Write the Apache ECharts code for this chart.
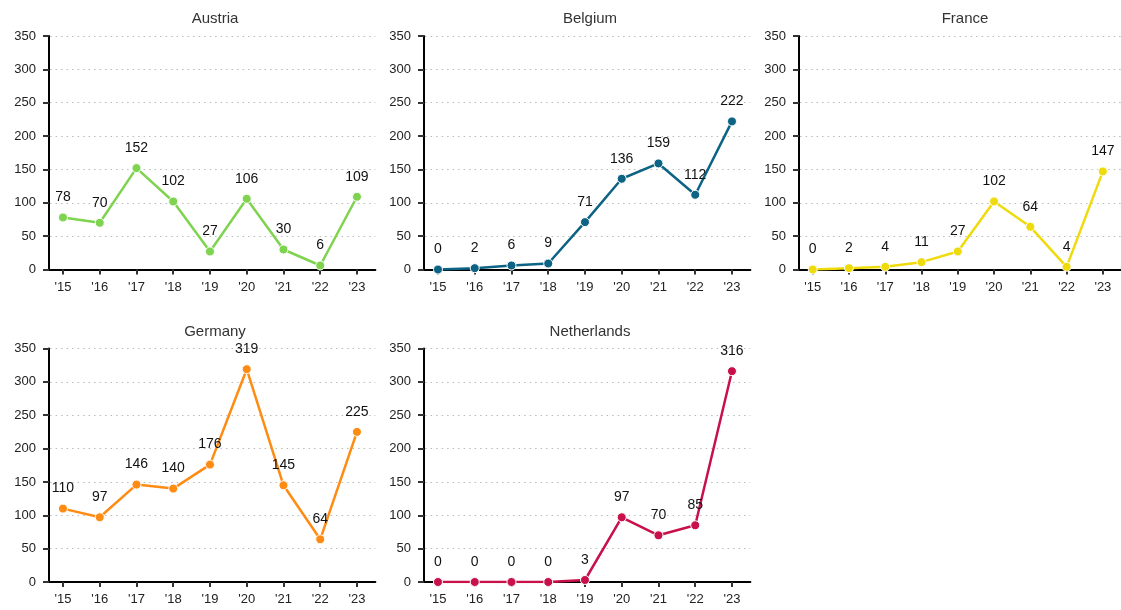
<!DOCTYPE html>
<html>
<head>
<meta charset="utf-8">
<script src="https://cdn.jsdelivr.net/npm/echarts@6/dist/echarts.min.js"></script>
<style>
html,body{margin:0;padding:0;background:#fff;}
#c{width:1121px;height:610px;}
</style>
</head>
<body>
<div id="c"></div>
<script>
const years = ["'15","'16","'17","'18","'19","'20","'21","'22","'23"];
const countries = ["Austria","Belgium","France","Germany","Netherlands"];
const austria = [78,70,152,102,27,106,30,6,109];
const belgium = [0,2,6,9,71,136,159,112,222];
const france = [0,2,4,11,27,102,64,4,147];
const germany = [110,97,146,140,176,319,145,64,225];
const netherlands = [0,0,0,0,3,97,70,85,316];
const colors = ["#7ed34f","#0c6384","#efdb0c","#fe8b12","#c8104b"];
const yTicks = [0,50,100,150,200,250,300,350];

const seriesData = [austria,belgium,france,germany,netherlands];
const FONT = "'Liberation Sans', Arial, sans-serif";

const grids=[], xAxes=[], yAxes=[], series=[], titles=[];
countries.forEach((name,i)=>{
  const col = i%3, row = Math.floor(i/3);
  const left = 44.6 + 375*col;
  const top = row===0 ? 36 : 348.5;
  grids.push({left:left, top:top, width:330.75, height:233.5});
  titles.push({text:name, left:left+165.4, top: row===0 ? 6 : 319.5, textAlign:'center',
    textStyle:{fontFamily:FONT,fontSize:15,fontWeight:'normal',color:'#333'}});
  xAxes.push({type:'category', gridIndex:i, data:years, boundaryGap:true,
    axisLine:{lineStyle:{color:'#000',width:2}},
    axisTick:{show:true, alignWithLabel:true, length:5, lineStyle:{color:'#333',width:2}},
    axisLabel:{color:'#222', fontFamily:FONT, fontSize:13, margin:11},
    splitLine:{show:false}});
  yAxes.push({type:'value', gridIndex:i, min:yTicks[0], max:yTicks[yTicks.length-1], interval:50,
    offset:-4.4,
    axisLine:{show:true, lineStyle:{color:'#000',width:2}},
    axisTick:{show:true, length:6, lineStyle:{color:'#333',width:2}},
    axisLabel:{color:'#222', fontFamily:FONT, fontSize:13, margin:13},
    splitLine:{show:true, lineStyle:{color:'#bbb', type:[1.5,4], width:1.2}}});
  series.push({type:'line', name:name, xAxisIndex:i, yAxisIndex:i, data:seriesData[i],
    symbol:'circle', symbolSize:9, showAllSymbol:true,
    lineStyle:{color:colors[i], width:2.5},
    itemStyle:{color:colors[i], borderColor:'#fff', borderWidth:1},
    label:{show:true, position:'top', distance:8, color:'#111', fontFamily:FONT, fontSize:14},
    animation:false});
});

const chart = echarts.init(document.getElementById('c'), null, {renderer:'canvas'});
chart.setOption({
  backgroundColor:'#fff',
  animation:false,
  title:titles, grid:grids, xAxis:xAxes, yAxis:yAxes, series:series
});
</script>
</body>
</html>
